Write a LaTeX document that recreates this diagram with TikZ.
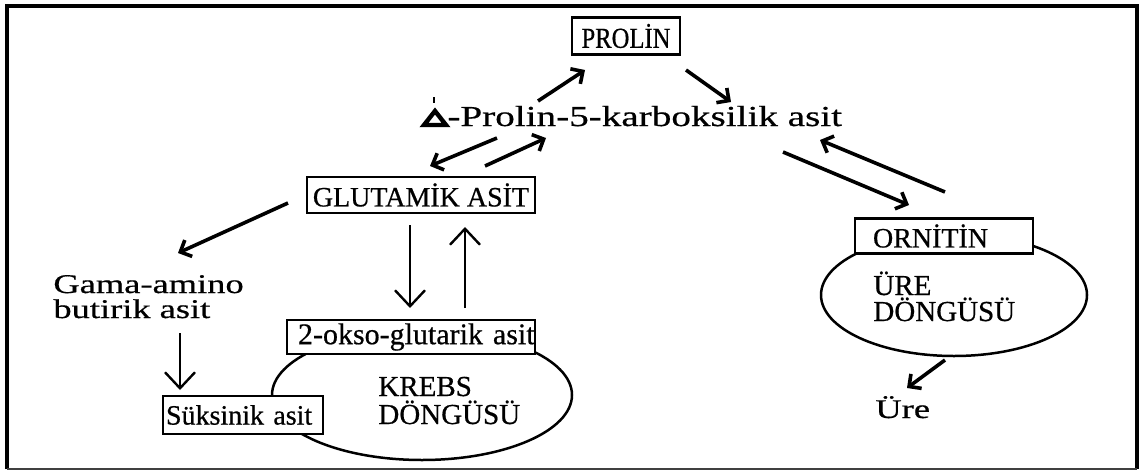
\documentclass[tikz,border=0pt]{standalone}
\usepackage{fontspec}
\setmainfont{Liberation Serif}[FakeBold=0.6]
\newfontfamily\widefont{Liberation Serif}[FakeStretch=1.35,FakeBold=0.6]
\newfontfamily\narrowfont{Liberation Serif}[FakeStretch=0.85,FakeBold=0.6]
\usetikzlibrary{arrows.meta,shapes.geometric}

\tikzset{
  chembox/.style={draw, line width=1.4pt, fill=white, inner sep=0pt, font=\fontsize{14}{14}\selectfont},
  leftbox/.style={chembox, align=left, inner xsep=#1},
  loopshape/.style={draw, line width=1.25pt, ellipse, inner sep=0pt},
  capslabel/.style={inner sep=0pt, anchor=base west, font=\fontsize{14.5}{14.5}\selectfont},
  widelabel/.style={inner sep=0pt, anchor=base west, font=\widefont\fontsize{13.5}{13.5}\selectfont},
  rxn/.style={line width=1.8pt, -{Straight Barb[length=4.5pt,width=9pt]}},
  rxnthin/.style={line width=1.2pt, -{Straight Barb[length=8pt,width=15pt]}}
}

\begin{document}
\begin{tikzpicture}[x=0.5pt,y=-0.5pt]
                \useasboundingbox (0,0) rectangle (1140,471);
                \draw[line width=1.7pt] (7,469) -- (7,6) -- (1137,6) -- (1137,469);
                \draw[line width=0.8pt, black!75] (7,469) -- (1137,469);

                % cycles behind the boxes
                \node[loopshape, minimum width=150pt, minimum height=65pt] (krebs) at (422,395) {};
                \node[loopshape, minimum width=133pt, minimum height=61pt] (urea) at (954,295) {};

                \node[chembox, font=\narrowfont\fontsize{14.5}{14.5}\selectfont, minimum width=54pt, minimum height=18.5pt] (prolin) at (626,36) {PROLİN};
                \node[chembox, minimum width=114pt, minimum height=18pt] (glut) at (421,195) {GLUTAMİK ASİT};
                \node[leftbox=5.5pt, text width=113pt, font=\fontsize{15}{15}\selectfont, minimum height=17pt] (okso) at (411,337) {\mbox{2-okso-glutarik asit}};
                \node[leftbox=1.5pt, text width=77pt, minimum height=19pt] (suks) at (243,415) {Süksinik asit};
                \node[leftbox=9pt, text width=71pt, minimum height=17.5pt] (ornitin) at (944,236) {ORNİTİN};

                \node[widelabel, font=\widefont\fontsize{14.5}{14.5}\selectfont] (p5c) at (447,126) {-Prolin-5-karboksilik asit};
                \draw[line width=2.2pt, line join=miter] (424,125) -- (435,111) -- (446,125) -- cycle;
                \draw[line width=1pt] (434,97) -- (434,103);

                \node[widelabel] (gaba1) at (53,293) {Gama-amino};
                \node[widelabel] (gaba2) at (53,318) {butirik asit};
                \node[widelabel] (ure) at (875,418) {Üre};

                \node[capslabel] (krebs1) at (378,396) {KREBS};
                \node[capslabel] (krebs2) at (378,424) {DÖNGÜSÜ};
                \node[capslabel] (urea1) at (873,295) {ÜRE};
                \node[capslabel] (urea2) at (873,321) {DÖNGÜSÜ};

                \coordinate (a1) at (538,101); \coordinate (b1) at (585,70);
                \coordinate (a2) at (686,70);  \coordinate (b2) at (731,102);
                \coordinate (a3) at (497,138); \coordinate (b3) at (430,166);
                \coordinate (a4) at (485,166); \coordinate (b4) at (546,138);
                \coordinate (a5) at (288,203); \coordinate (b5) at (178,253);
                \coordinate (a6) at (783,152); \coordinate (b6) at (909,205);
                \coordinate (a7) at (945,192); \coordinate (b7) at (820,140);
                \coordinate (a8) at (945,360); \coordinate (b8) at (907,388);

                \foreach \from/\to in {a1/b1, a2/b2, a3/b3, a4/b4, a5/b5, a6/b6, a7/b7, a8/b8}
                \draw[rxn] (\from) -- (\to);

                \draw[rxnthin] (180,333) -- (180,390);
                \draw[rxnthin] (410,225) -- (410,308);
                \draw[rxnthin] (465,308) -- (465,227);
\end{tikzpicture}
\end{document}
